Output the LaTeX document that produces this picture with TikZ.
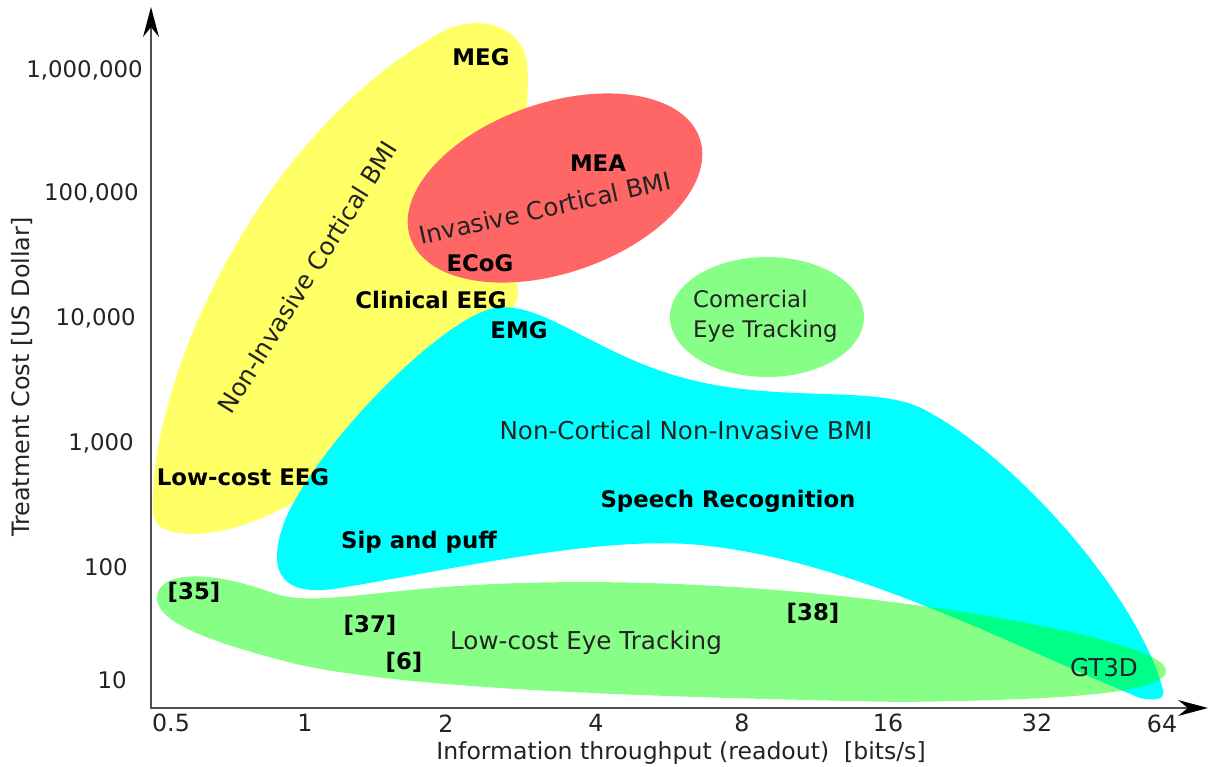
\documentclass[tikz,border=0pt]{standalone}
\usepackage{fontspec}
\setmainfont{DejaVu Sans}
\usetikzlibrary{arrows.meta}
\definecolor{tc-yellow}{RGB}{255,255,102}
\definecolor{tc-red}{RGB}{255,102,102}
\definecolor{tc-cyan}{RGB}{0,255,255}
\definecolor{tc-green}{RGB}{0,255,0}
\definecolor{tc-axis}{RGB}{80,80,80}
\definecolor{tc-text}{RGB}{35,35,35}

\begin{document}
\begin{tikzpicture}[x=0.02cm, y=-0.02cm,
    techlab/.style={font=\fontsize{13}{15}\selectfont\bfseries},
    regionlab/.style={font=\fontsize{14}{17}\selectfont, text=tc-text},
    ticklab/.style={font=\fontsize{13.5}{15}\selectfont, text=tc-text, inner sep=0pt},
    axislab/.style={font=\fontsize{13.4}{15}\selectfont, text=tc-text}]
    \useasboundingbox (0,0) rectangle (1210,767);

    % regions
    \fill[tc-yellow] (153,505) .. controls (150,390) and (250,140) .. (440,33)
        .. controls (470,15) and (520,20) .. (527,62)
        .. controls (533,120) and (505,220) .. (518,290)
        .. controls (525,320) and (420,380) .. (340,470)
        .. controls (300,505) and (230,540) .. (180,533)
        .. controls (155,530) and (153,520) .. cycle;
    \fill[tc-red, rotate around={19:(555,188)}] (555,188) ellipse [x radius=153, y radius=85];
    \fill[tc-cyan] (495,308) .. controls (545,300) and (600,360) .. (700,382)
        .. controls (790,402) and (880,385) .. (925,410)
        .. controls (1020,460) and (1140,600) .. (1163,690)
        .. controls (1166,702) and (1150,700) .. (1140,698)
        .. controls (1000,640) and (850,560) .. (700,545)
        .. controls (600,535) and (450,570) .. (340,588)
        .. controls (270,600) and (270,560) .. (285,520)
        .. controls (320,440) and (445,316) .. cycle;
    \fill[tc-green, opacity=0.47] (157,600) .. controls (155,570) and (210,570) .. (270,592)
        .. controls (300,603) and (330,598) .. (400,591)
        .. controls (550,575) and (750,580) .. (950,610)
        .. controls (1050,625) and (1170,650) .. (1166,672)
        .. controls (1160,695) and (1050,700) .. (900,702)
        .. controls (650,697) and (420,690) .. (300,665)
        .. controls (220,645) and (160,625) .. cycle;
    \fill[tc-green, opacity=0.47] (767,317) ellipse [x radius=97, y radius=60];

    % axes
    \coordinate (origin) at (151,708);
    \coordinate (ytip) at (151,7);
    \coordinate (xtip) at (1208,708);
    \draw[tc-axis, line width=1.2pt, {Stealth[length=17pt, width=9pt, color=black]}-{Stealth[length=17pt, width=9pt, color=black]}] (ytip) -- (origin) -- (xtip);

    \node[ticklab, anchor=east, font=\fontsize{13}{15}\selectfont] (y1e6) at (143,70) {1,000,000};
    \node[ticklab, anchor=east, font=\fontsize{13}{15}\selectfont] (y1e5) at (139,193) {100,000};
    \node[ticklab, anchor=east, font=\fontsize{13}{15}\selectfont] (y1e4) at (136,318) {10,000};
    \node[ticklab, anchor=east, font=\fontsize{13}{15}\selectfont] (y1e3) at (134,443) {1,000};
    \node[ticklab, anchor=east, font=\fontsize{13}{15}\selectfont] (y1e2) at (128,567) {100};
    \node[ticklab, anchor=east, font=\fontsize{13}{15}\selectfont] (y1e1) at (127,680) {10};

    \node[ticklab] (x05) at (171,723) {0.5};
    \node[ticklab] (x1) at (305,723) {1};
    \node[ticklab] (x2) at (446,724) {2};
    \node[ticklab] (x4) at (596,723) {4};
    \node[ticklab] (x8) at (742,723) {8};
    \node[ticklab] (x16) at (888,723) {16};
    \node[ticklab] (x32) at (1037,723) {32};
    \node[ticklab] (x64) at (1162,724) {64};

    \node[axislab] (xtitle) at (681,753) {Information throughput (readout)~~[bits/s]};
    \node[axislab, rotate=90, font=\fontsize{13.6}{15}\selectfont] (ytitle) at (22,377) {Treatment Cost [US Dollar]};

    % region names
    \node[regionlab, rotate=58] (ncbmi) at (307,277) {Non-Invasive Cortical BMI};
    \node[regionlab, rotate=12.5] (icbmi) at (545,208) {Invasive Cortical BMI};
    \node[regionlab] (nncbmi) at (686,430) {Non-Cortical Non-Invasive BMI};
    \node[regionlab] (lcet) at (586,643) {Low-cost Eye Tracking};
    \node[regionlab, align=left, anchor=west, font=\fontsize{13}{17}\selectfont] (cet) at (687,316) {Comercial\\Eye Tracking};

    % devices
    \node[techlab] (meg) at (481,57) {MEG};
    \node[techlab] (mea) at (598,163) {MEA};
    \node[techlab] (ecog) at (480,263) {ECoG};
    \node[techlab] (ceeg) at (431,300) {Clinical EEG};
    \node[techlab] (emg) at (519,330) {EMG};
    \node[techlab] (lceeg) at (243,477) {Low-cost EEG};
    \node[techlab] (sip) at (419,542) {Sip and puff};
    \node[techlab] (speech) at (728,501) {Speech Recognition};
    \node[techlab] (r35) at (194,592) {[35]};
    \node[techlab] (r37) at (370,625) {[37]};
    \node[techlab] (r6) at (404,662) {[6]};
    \node[techlab] (r38) at (813,613) {[38]};
    \node[regionlab] (gt3d) at (1104,668) {GT3D};
\end{tikzpicture}
\end{document}
